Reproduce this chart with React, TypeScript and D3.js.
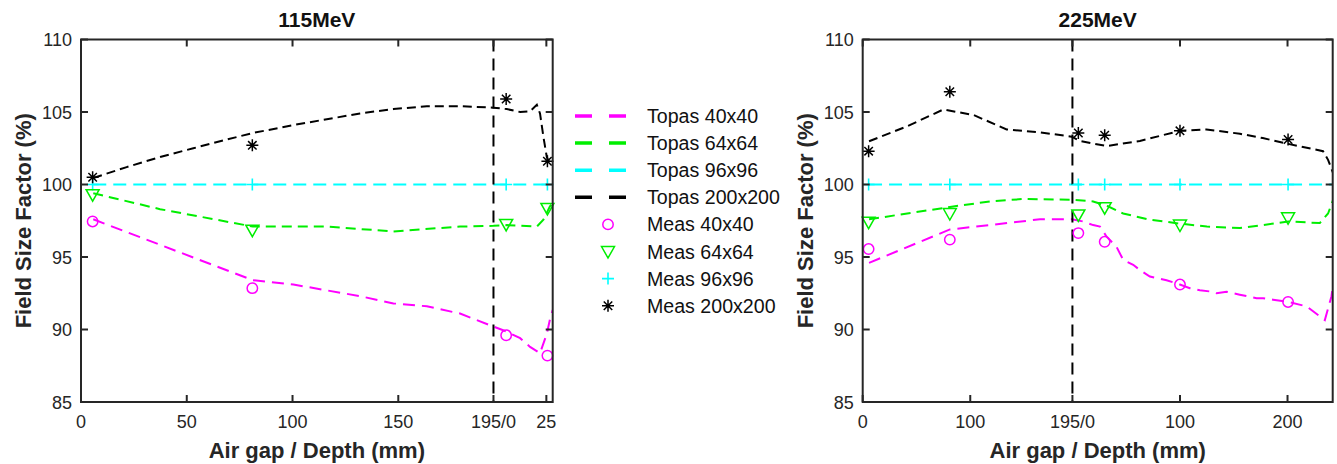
import React from 'react';
import * as d3 from 'd3';

const W = 1337;
const H = 464;

const yTicks = [85, 90, 95, 100, 105, 110];
const legendLabels = ['Topas 40x40', 'Topas 64x64', 'Topas 96x96', 'Topas 200x200', 'Meas 40x40', 'Meas 64x64', 'Meas 96x96', 'Meas 200x200'];
const seriesColors = ['#ff00ff', '#00ee00', '#00ffff', '#000000'];
const seriesDash = ['12 7', '10 6', '13 7', '9 5'];

// ---- 115 MeV ----
const leftXTickValues = [0, 50, 100, 150, 195, 220];
const leftXTickLabels = ['0', '50', '100', '150', '195/0', '25'];
const leftMeasX = [5.5, 81, 201, 220.5];
const leftMeas40 = [97.45, 92.85, 89.6, 88.2];
const leftMeas64 = [99.3, 96.85, 97.25, 98.35];
const leftMeas96 = [100, 100, 100, 100];
const leftMeas200 = [100.5, 102.7, 105.9, 101.6];
const leftTopas40: [number, number][] = [[5.8, 97.6], [81.2, 93.4], [100.4, 93.1], [116.2, 92.7], [131.9, 92.3], [147.7, 91.8], [163.5, 91.6], [179.2, 91.1], [195, 90.2], [201.3, 89.85], [207.6, 89.4], [212.3, 88.8], [217, 88.36], [220.2, 89.7], [221.7, 90.7], [223, 91.35]];
const leftTopas64: [number, number][] = [[5.8, 99.4], [37.4, 98.3], [81.2, 97.1], [116.2, 97.1], [147.7, 96.76], [179.2, 97.1], [195, 97.15], [201.3, 97.2], [215.5, 97.1], [218.6, 97.57], [221.7, 98.5], [223, 98.7]];
const leftTopas96: [number, number][] = [[5.8, 100], [223, 100]];
const leftTopas200: [number, number][] = [[5.8, 100.45], [21.6, 101.2], [37.4, 101.9], [53.1, 102.5], [68.9, 103.1], [81.2, 103.55], [100.4, 104.1], [116.2, 104.5], [131.9, 104.9], [147.7, 105.2], [163.5, 105.4], [179.2, 105.4], [195, 105.3], [201.3, 105.2], [207.6, 105.0], [212.3, 105.05], [215.5, 105.5], [217, 104.9], [218.6, 103.3], [220.2, 101.9], [221.7, 101.4]];

// ---- 225 MeV ----
const rightXTickValues = [0, 100, 195, 295, 395];
const rightXTickLabels = ['0', '100', '195/0', '100', '200'];
const rightMeasX = [5.5, 81, 200.5, 225, 295, 395.5];
const rightMeas40 = [95.55, 96.2, 96.65, 96.05, 93.1, 91.9];
const rightMeas64 = [97.4, 98.0, 97.9, 98.4, 97.2, 97.7];
const rightMeas96 = [100, 100, 100, 100, 100, 100];
const rightMeas200 = [102.3, 106.4, 103.55, 103.4, 103.7, 103.1];
const rightTopas40: [number, number][] = [[5.9, 94.6], [81.1, 96.9], [118.3, 97.2], [164.8, 97.6], [194.2, 97.6], [205, 97.45], [214.3, 97.2], [220.6, 97.1], [226.8, 96.4], [236, 95.7], [242.2, 94.8], [251.5, 94.46], [257.7, 94.1], [267, 93.65], [273.2, 93.55], [282.5, 93.4], [294.9, 93.1], [304.2, 92.85], [313.5, 92.7], [325.8, 92.6], [329, 92.5], [338.3, 92.6], [350.6, 92.4], [366.2, 92.16], [372.3, 92.16], [381.6, 92.05], [395.6, 91.9], [412.6, 91.6], [429.7, 90.65], [435.9, 92.3], [437.4, 93.2]];
const rightTopas64: [number, number][] = [[5.9, 97.6], [81.1, 98.45], [118.3, 98.83], [149.3, 99.0], [194.2, 98.95], [214.3, 98.83], [228, 98.5], [242.2, 98.0], [265, 97.6], [294.9, 97.3], [320, 97.1], [350.7, 97.0], [372, 97.2], [395.6, 97.45], [425, 97.34], [432.7, 98.0], [437.4, 98.95]];
const rightTopas96: [number, number][] = [[5.9, 100], [437, 100]];
const rightTopas200: [number, number][] = [[5.9, 102.98], [40.9, 104.0], [74.9, 105.17], [102.8, 104.8], [133.8, 103.8], [164.8, 103.6], [194.2, 103.3], [202, 103.0], [226.8, 102.65], [257.7, 103.0], [294.9, 103.7], [319.7, 103.8], [350.7, 103.5], [372, 103.2], [395.6, 102.8], [428, 102.3], [432.7, 101.7], [437.3, 100.8]];

const TOP = 39.5;
const BOTTOM = 402;
const FRAME = '#262626';
const FONT = '"Liberation Sans", Arial, sans-serif';

function Marker({ kind, x, y }: { kind: number; x: number; y: number }) {
  if (kind === 0) return <circle cx={x} cy={y} r={5.2} fill="none" stroke={seriesColors[0]} strokeWidth={1.5} />;
  if (kind === 1)
    return <path d={`M${x - 6.5},${y - 5} L${x + 6.5},${y - 5} L${x},${y + 6.5} Z`} fill="none" stroke={seriesColors[1]} strokeWidth={1.5} />;
  if (kind === 2)
    return <path d={`M${x - 6},${y} H${x + 6} M${x},${y - 6} V${y + 6}`} stroke={seriesColors[2]} strokeWidth={1.6} />;
  const r = 6;
  const c = r * Math.SQRT1_2;
  return (
    <path
      d={`M${x - r},${y} H${x + r} M${x},${y - r} V${y + r} M${x - c},${y - c} L${x + c},${y + c} M${x - c},${y + c} L${x + c},${y - c}`}
      stroke="#000"
      strokeWidth={1.5}
    />
  );
}

type P = {
  id: string;
  title: string;
  left: number;
  right: number;
  domainMax: number;
  xTickValues: number[];
  xTickLabels: string[];
  measX: number[];
  meas: number[][];
  topas: [number, number][][];
};

function Panel(p: P) {
  const x = d3.scaleLinear().domain([0, p.domainMax]).range([p.left, p.right]);
  const y = d3.scaleLinear().domain([85, 110]).range([BOTTOM, TOP]);
  const line = d3
    .line<[number, number]>()
    .x((d) => x(d[0]))
    .y((d) => y(d[1]));
  const cx = (p.left + p.right) / 2;
  const tl = 7;
  return (
    <g>
      <defs>
        <clipPath id={`clip-${p.id}`}>
          <rect x={p.left} y={TOP} width={p.right - p.left} height={BOTTOM - TOP} />
        </clipPath>
      </defs>
      <g clipPath={`url(#clip-${p.id})`}>
        {p.topas.map((s, i) => (
          <path key={i} d={line(s) || ''} fill="none" stroke={seriesColors[i]} strokeWidth={2} strokeDasharray={seriesDash[i]} />
        ))}
        <line x1={x(195)} x2={x(195)} y1={TOP} y2={BOTTOM} stroke="#000" strokeWidth={2} strokeDasharray="12 7" />
      </g>
      {[2, 1, 0, 3].map((k) =>
        p.meas[k].map((v, j) => <Marker key={`${k}-${j}`} kind={k} x={x(p.measX[j])} y={y(v)} />)
      )}
      <rect x={p.left} y={TOP} width={p.right - p.left} height={BOTTOM - TOP} fill="none" stroke={FRAME} strokeWidth={2} />
      {yTicks.map((t) => (
        <g key={t}>
          <line x1={p.left} x2={p.left + tl} y1={y(t)} y2={y(t)} stroke={FRAME} strokeWidth={2} />
          <line x1={p.right} x2={p.right - tl} y1={y(t)} y2={y(t)} stroke={FRAME} strokeWidth={2} />
          <text x={p.left - 9} y={y(t) + 6.5} textAnchor="end" fontSize={18} fill={FRAME} fontFamily={FONT}>
            {t}
          </text>
        </g>
      ))}
      {p.xTickValues.map((t, i) => (
        <g key={i}>
          <line x1={x(t)} x2={x(t)} y1={BOTTOM} y2={BOTTOM - tl} stroke={FRAME} strokeWidth={2} />
          <line x1={x(t)} x2={x(t)} y1={TOP} y2={TOP + tl} stroke={FRAME} strokeWidth={2} />
          <text x={x(t)} y={428} textAnchor="middle" fontSize={18} fill={FRAME} fontFamily={FONT}>
            {p.xTickLabels[i]}
          </text>
        </g>
      ))}
      <text x={cx} y={27} textAnchor="middle" fontSize={21} fontWeight="bold" fill="#111" fontFamily={FONT}>
        {p.title}
      </text>
      <text x={cx} y={458} textAnchor="middle" fontSize={22} fontWeight="bold" fill={FRAME} fontFamily={FONT}>
        Air gap / Depth (mm)
      </text>
      <text
        transform={`translate(${p.left - 50},${(TOP + BOTTOM) / 2}) rotate(-90)`}
        textAnchor="middle"
        fontSize={22}
        fontWeight="bold"
        fill={FRAME}
        fontFamily={FONT}
      >
        Field Size Factor (%)
      </text>
    </g>
  );
}

function Legend() {
  const y0 = 116;
  const dy = 27.1;
  return (
    <g>
      {legendLabels.map((lab, i) => {
        const yy = y0 + i * dy;
        return (
          <g key={lab}>
            {i < 4 ? (
              <line x1={575} x2={627} y1={yy} y2={yy} stroke={seriesColors[i]} strokeWidth={3.5} strokeDasharray="17 17" />
            ) : (
              <Marker kind={i - 4} x={608} y={yy} />
            )}
            <text x={647} y={yy + 7} fontSize={19.6} fill="#111" fontFamily={FONT}>
              {lab}
            </text>
          </g>
        );
      })}
    </g>
  );
}

export default function App() {
  return (
    <svg width={W} height={H} style={{ position: 'absolute', left: 0, top: 0, background: '#fff' }}>
      <rect width={W} height={H} fill="#fff" />
      <Panel
        id="l"
        title="115MeV"
        left={81}
        right={552.7}
        domainMax={223}
        xTickValues={leftXTickValues}
        xTickLabels={leftXTickLabels}
        measX={leftMeasX}
        meas={[leftMeas40, leftMeas64, leftMeas96, leftMeas200]}
        topas={[leftTopas40, leftTopas64, leftTopas96, leftTopas200]}
      />
      <Panel
        id="r"
        title="225MeV"
        left={862.7}
        right={1332.7}
        domainMax={437}
        xTickValues={rightXTickValues}
        xTickLabels={rightXTickLabels}
        measX={rightMeasX}
        meas={[rightMeas40, rightMeas64, rightMeas96, rightMeas200]}
        topas={[rightTopas40, rightTopas64, rightTopas96, rightTopas200]}
      />
      <Legend />
    </svg>
  );
}
